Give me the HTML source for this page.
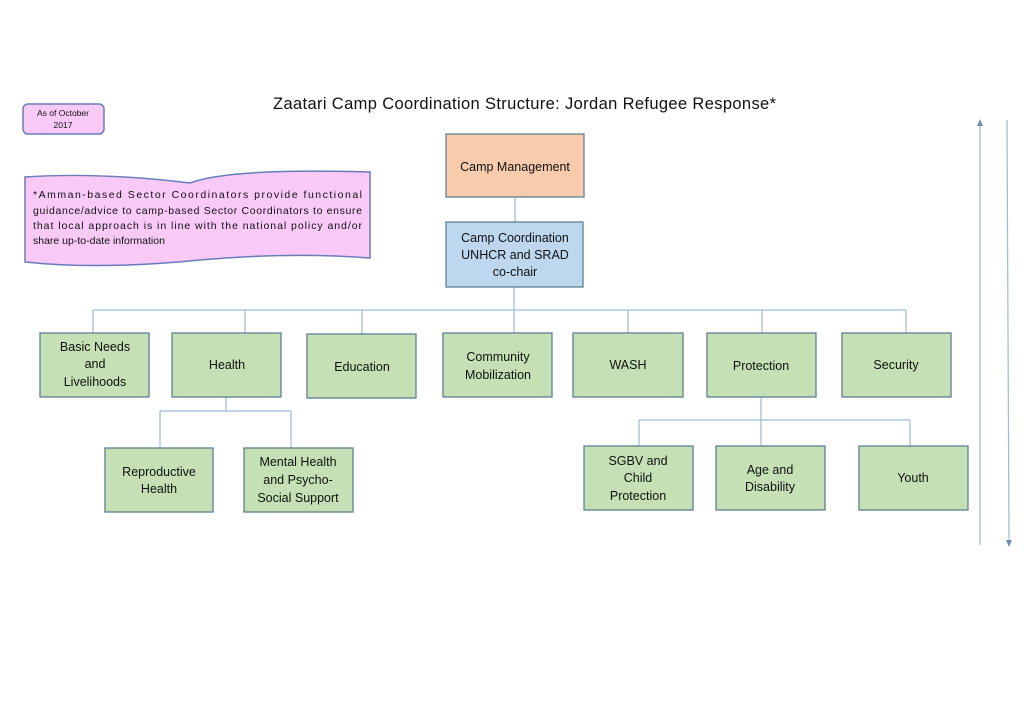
<!DOCTYPE html>
<html><head><style>
body{margin:0;background:#fff;}
svg{display:block;font-family:"Liberation Sans",sans-serif;}
text{fill:#111;}
</style></head><body>
<svg width="1024" height="724" viewBox="0 0 1024 724">
<text x="273" y="109" font-size="16.5" textLength="503" lengthAdjust="spacing">Zaatari Camp Coordination Structure: Jordan Refugee Response*</text>
<rect x="23" y="104" width="81" height="30" rx="5" fill="#f9c9f7" stroke="#6a7cb8" stroke-width="1.5"/>
<text x="63" y="116" text-anchor="middle" font-size="8.5">As of October</text>
<text x="63" y="128" text-anchor="middle" font-size="8.5">2017</text>
<path d="M25 177 Q100 172 190 183 Q230 168 370 172 L370 258 Q290 252 200 260 Q100 270 25 262 Z" fill="#f9c9f7" stroke="#6a7cb8" stroke-width="1.5"/>
<g font-size="10.5">
<text x="33" y="198" textLength="329" lengthAdjust="spacing">*Amman-based Sector Coordinators provide functional</text>
<text x="33" y="214" textLength="329" lengthAdjust="spacing">guidance/advice to camp-based Sector Coordinators to ensure</text>
<text x="33" y="229" textLength="329" lengthAdjust="spacing">that local approach is in line with the national policy and/or</text>
<text x="33" y="244">share up-to-date information</text>
</g>
<g stroke="#9dbad6" stroke-width="1.2" fill="none">
<line x1="515" y1="197" x2="515" y2="222"/>
<line x1="514" y1="287" x2="514" y2="310"/>
<line x1="93" y1="310" x2="906" y2="310"/>
<line x1="93" y1="310" x2="93" y2="333"/>
<line x1="245" y1="310" x2="245" y2="333"/>
<line x1="362" y1="310" x2="362" y2="334"/>
<line x1="514" y1="310" x2="514" y2="333"/>
<line x1="628" y1="310" x2="628" y2="333"/>
<line x1="762" y1="310" x2="762" y2="333"/>
<line x1="906" y1="310" x2="906" y2="333"/>
<line x1="226" y1="397" x2="226" y2="411"/>
<line x1="160" y1="411" x2="291" y2="411"/>
<line x1="160" y1="411" x2="160" y2="448"/>
<line x1="291" y1="411" x2="291" y2="448"/>
<line x1="761" y1="397" x2="761" y2="420"/>
<line x1="639" y1="420" x2="910" y2="420"/>
<line x1="639" y1="420" x2="639" y2="446"/>
<line x1="761" y1="420" x2="761" y2="446"/>
<line x1="910" y1="420" x2="910" y2="446"/>
<line x1="980" y1="124" x2="980" y2="545"/>
<line x1="1007" y1="120" x2="1009" y2="542"/>
</g>
<path d="M977 126 L980 119 L983 126 Z" fill="#6f8fb5"/>
<path d="M1006 540 L1009 547 L1012 540 Z" fill="#6f8fb5"/>
<g stroke="#5f7f93" stroke-width="1.3">
<rect x="446" y="134" width="138" height="63" fill="#f8cbad"/>
<rect x="446" y="222" width="137" height="65" fill="#bdd7ee"/>
<g fill="#c5e0b4">
<rect x="40" y="333" width="109" height="64"/>
<rect x="172" y="333" width="109" height="64"/>
<rect x="307" y="334" width="109" height="64"/>
<rect x="443" y="333" width="109" height="64"/>
<rect x="573" y="333" width="110" height="64"/>
<rect x="707" y="333" width="109" height="64"/>
<rect x="842" y="333" width="109" height="64"/>
<rect x="105" y="448" width="108" height="64"/>
<rect x="244" y="448" width="109" height="64"/>
<rect x="584" y="446" width="109" height="64"/>
<rect x="716" y="446" width="109" height="64"/>
<rect x="859" y="446" width="109" height="64"/>
</g></g>
<g font-size="12.5" text-anchor="middle">
<text x="515" y="171">Camp Management</text>
<text x="515" y="242">Camp Coordination</text>
<text x="515" y="259">UNHCR and SRAD</text>
<text x="515" y="276">co-chair</text>
<text x="95" y="351">Basic Needs</text><text x="95" y="368">and</text><text x="95" y="386">Livelihoods</text>
<text x="227" y="369">Health</text>
<text x="362" y="371">Education</text>
<text x="498" y="361">Community</text><text x="498" y="379">Mobilization</text>
<text x="628" y="369">WASH</text>
<text x="761" y="370">Protection</text>
<text x="896" y="369">Security</text>
<text x="159" y="476">Reproductive</text><text x="159" y="493">Health</text>
<text x="298" y="466">Mental Health</text><text x="298" y="484">and Psycho-</text><text x="298" y="502">Social Support</text>
<text x="638" y="465">SGBV and</text><text x="638" y="482">Child</text><text x="638" y="500">Protection</text>
<text x="770" y="474">Age and</text><text x="770" y="491">Disability</text>
<text x="913" y="482">Youth</text>
</g>
</svg>
</body></html>
